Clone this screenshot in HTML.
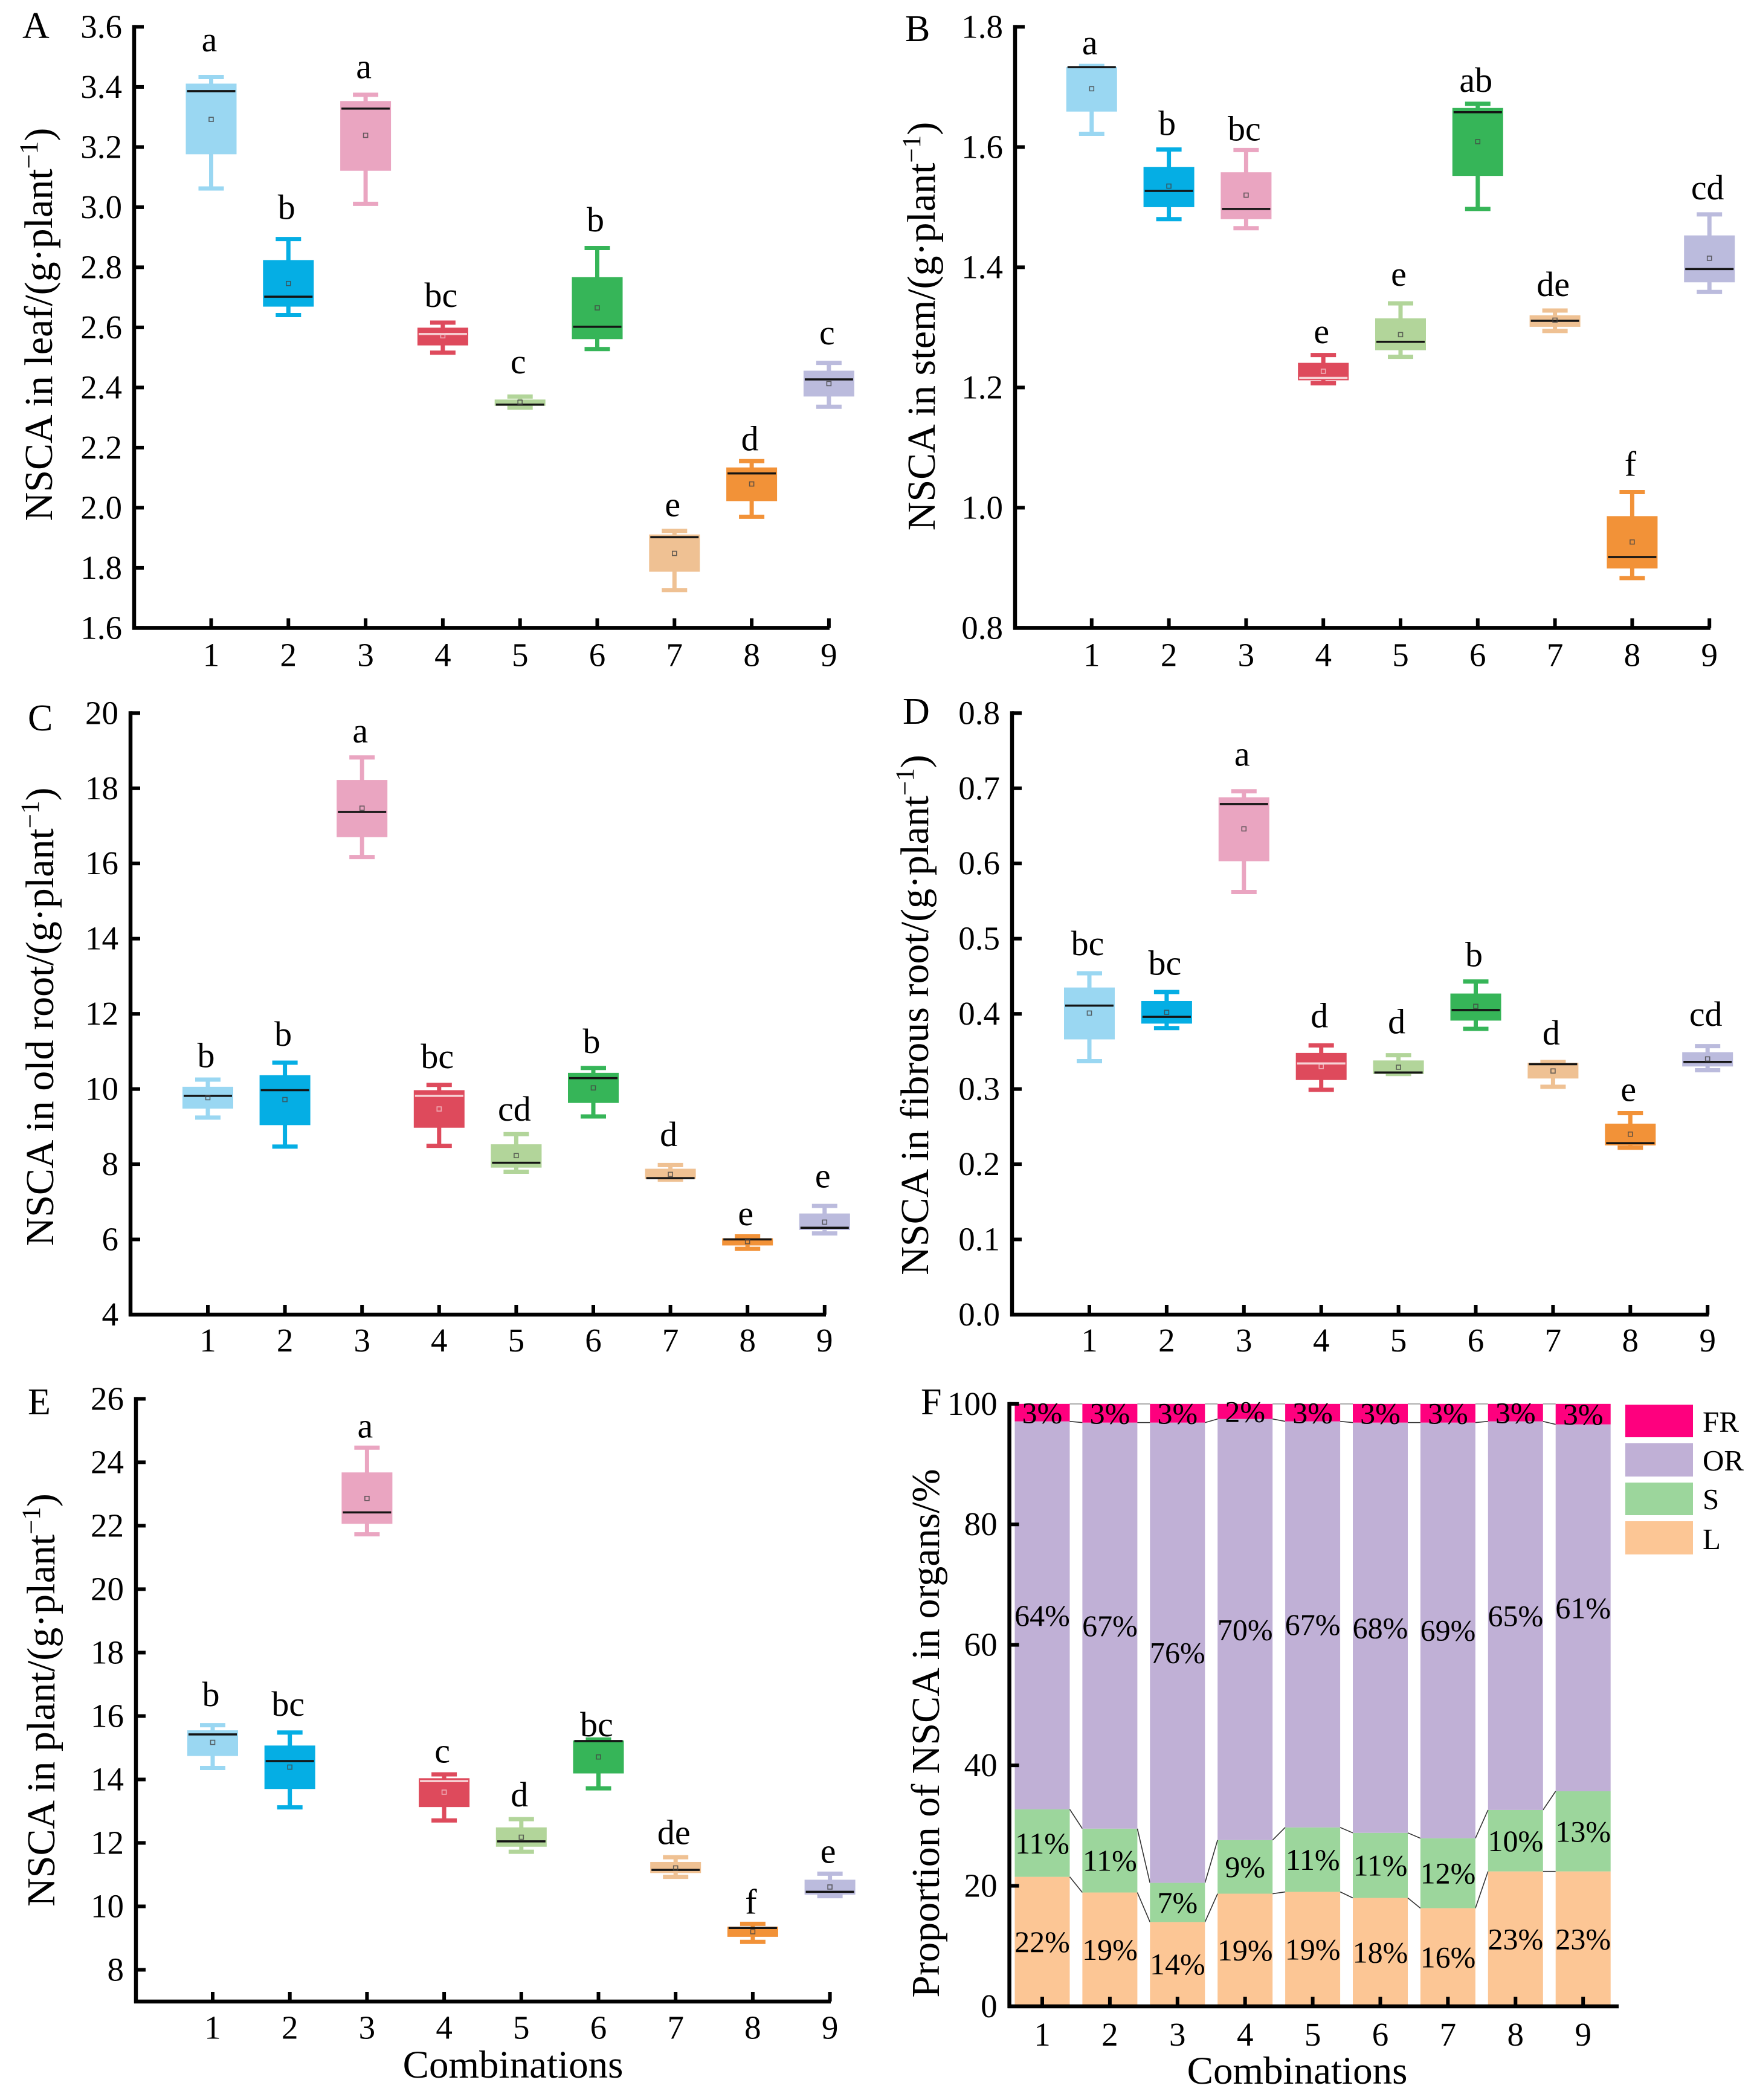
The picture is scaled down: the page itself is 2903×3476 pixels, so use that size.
<!DOCTYPE html>
<html lang="en">
<head>
<meta charset="utf-8">
<title>NSCA by organ and combination</title>
<style>
html,body{margin:0;padding:0;background:#fff;}
svg{display:block;font-family:"Liberation Serif","Times New Roman",serif;fill:#000;}
</style>
</head>
<body>
<svg id="figure" xmlns="http://www.w3.org/2000/svg" width="2903" height="3476" viewBox="0 0 2903 3476">
<rect x="0" y="0" width="2903" height="3476" fill="#fff"/>
<g id="panel-a"></g>
<g id="panel-b"></g>
<g id="panel-c"></g>
<g id="panel-d"></g>
<g id="panel-e"></g>
<g id="panel-f"></g>
<g>
<rect x="2690" y="2325" width="112" height="54" fill="#FE007E"/>
<text x="2818" y="2370" font-size="49">FR</text>
<rect x="2690" y="2389" width="112" height="55" fill="#C0B0D6"/>
<text x="2818" y="2434" font-size="49">OR</text>
<rect x="2690" y="2454" width="112" height="54" fill="#9CD69C"/>
<text x="2818" y="2498" font-size="49">S</text>
<rect x="2690" y="2518" width="112" height="55" fill="#FCC695"/>
<text x="2818" y="2564" font-size="49">L</text>
</g>
</svg>
<script>
const categories = [1,2,3,4,5,6,7,8,9];

const aTicks = ['1.6','1.8','2.0','2.2','2.4','2.6','2.8','3.0','3.2','3.4','3.6'];
const aWhiskerHigh = [3.433,2.894,3.374,2.616,2.370,2.864,1.923,2.155,2.482];
const aBoxHigh     = [3.411,2.824,3.353,2.599,2.360,2.767,1.911,2.134,2.456];
const aMedian      = [3.386,2.702,3.328,2.578,2.343,2.602,1.902,2.114,2.427];
const aMean        = [3.292,2.746,3.239,2.572,2.351,2.665,1.848,2.079,2.413];
const aBoxLow      = [3.176,2.669,3.121,2.540,2.339,2.561,1.787,2.022,2.370];
const aWhiskerLow  = [3.062,2.641,3.011,2.516,2.333,2.528,1.726,1.970,2.336];
const aLetters     = ['a','b','a','bc','c','b','e','d','c'];
const aLetterPad   = [.085,.067,.055,.052,.077,.055,.049,.036,.062];

const bTicks = ['0.8','1.0','1.2','1.4','1.6','1.8'];
const bWhiskerHigh = [1.735,1.596,1.595,1.254,1.340,1.672,1.328,1.026,1.488];
const bBoxHigh     = [1.733,1.567,1.558,1.241,1.315,1.665,1.320,.986,1.453];
const bMedian      = [1.733,1.527,1.497,1.216,1.276,1.658,1.311,.918,1.397];
const bMean        = [1.697,1.535,1.520,1.227,1.288,1.609,1.312,.943,1.415];
const bBoxLow      = [1.659,1.500,1.480,1.212,1.262,1.552,1.301,.899,1.375];
const bWhiskerLow  = [1.622,1.480,1.465,1.207,1.251,1.497,1.294,.883,1.359];
const bLetters     = ['a','b','bc','e','e','ab','de','f','cd'];
const bLetterPad   = [.019,.024,.016,.020,.029,.020,.024,.027,.025];

const cTicks = ['4','6','8','10','12','14','16','18','20'];
const cWhiskerHigh = [10.25,10.70,18.82,10.11,8.80,10.56,7.98,6.08,6.89];
const cBoxHigh     = [10.06,10.37,18.22,9.97,8.53,10.43,7.88,6.03,6.69];
const cMedian      = [9.82,9.97,17.37,9.82,8.04,10.29,7.63,6.00,6.31];
const cMean        = [9.77,9.72,17.47,9.47,8.23,10.03,7.73,5.94,6.46];
const cBoxLow      = [9.48,9.04,16.70,8.97,7.91,9.63,7.61,5.84,6.25];
const cWhiskerLow  = [9.24,8.47,16.17,8.49,7.80,9.27,7.59,5.75,6.16];
const cLetters     = ['b','b','a','bc','cd','b','d','e','e'];
const cLetterPad   = [.33,.45,.40,.45,.36,.40,.50,.30,.49];

const dTicks = ['0.0','0.1','0.2','0.3','0.4','0.5','0.6','0.7','0.8'];
const dWhiskerHigh = [.454,.429,.696,.358,.345,.443,.336,.268,.357];
const dBoxHigh     = [.435,.417,.688,.348,.338,.427,.335,.254,.349];
const dMedian      = [.411,.396,.679,.334,.322,.405,.333,.228,.336];
const dMean        = [.401,.402,.646,.330,.329,.410,.324,.240,.340];
const dBoxLow      = [.366,.387,.603,.312,.320,.391,.314,.225,.330];
const dWhiskerLow  = [.337,.381,.562,.299,.320,.380,.303,.222,.325];
const dLetters     = ['bc','bc','a','d','d','b','d','e','cd'];
const dLetterPad   = [.024,.023,.034,.024,.029,.020,.023,.016,.027];

const eTicks = ['8','10','12','14','16','18','20','22','24','26'];
const eWhiskerHigh = [15.71,15.48,24.46,14.16,12.75,15.26,11.55,9.45,11.03];
const eBoxHigh     = [15.55,15.07,23.68,14.04,12.49,15.23,11.40,9.36,10.84];
const eMedian      = [15.42,14.58,22.42,13.95,12.05,15.21,11.15,9.32,10.46];
const eMean        = [15.17,14.39,22.86,13.60,12.18,14.71,11.21,9.20,10.61];
const eBoxLow      = [14.74,13.70,22.06,13.13,11.88,14.19,11.05,9.04,10.37];
const eWhiskerLow  = [14.36,13.12,21.73,12.71,11.72,13.72,10.93,8.88,10.32];
const eLetters     = ['b','bc','a','c','d','bc','de','f','e'];
const eLetterPad   = [.60,.53,.32,.37,.40,.10,.41,.32,.34];

const fTicks = ['0','20','40','60','80','100'];
const fLeaf      = [21.5,18.9,14.0,18.7,19.0,18.0,16.3,22.4,22.4];
const fStem      = [11.2,10.6,6.5,8.9,10.7,10.8,11.6,10.2,13.3];
const fOldRoot   = [64.4,67.4,76.4,69.9,67.4,68.1,69.0,64.5,60.9];
const fFibrous   = [2.9,3.1,3.1,2.5,2.9,3.1,3.1,2.9,3.4];
const fLeafText    = ['22%','19%','14%','19%','19%','18%','16%','23%','23%'];
const fStemText    = ['11%','11%','7%','9%','11%','11%','12%','10%','13%'];
const fOldRootText = ['64%','67%','76%','70%','67%','68%','69%','65%','61%'];
const fFibrousText = ['3%','3%','3%','2%','3%','3%','3%','3%','3%'];

const boxColors = ['#9AD7F2','#05AEE4','#EAA5C1','#DE4A5C','#B2D59A','#36B558','#EFC193','#F29238','#BBBBDD'];
const NS = 'http://www.w3.org/2000/svg';

function mk(tag, attrs, parent, content) {
  const el = document.createElementNS(NS, tag);
  for (const k in attrs) el.setAttribute(k, attrs[k]);
  if (content !== undefined) el.textContent = content;
  parent.appendChild(el);
  return el;
}

function drawAxes(g, o, ticks, yOf, xOf, cats) {
  const yAxis = mk('line', {x1:o.axisX, x2:o.axisX, y1:o.top-3, y2:o.bottom+3, stroke:'#000', 'stroke-width':6.5}, g);
  
  
  const xAxis = mk('line', {x1:o.axisX-3, x2:o.xEnd, y1:o.bottom, y2:o.bottom, stroke:'#000', 'stroke-width':6.5}, g);
  
  
  ticks.forEach(function (t) {
    const y = yOf(parseFloat(t));
    const tick = mk('line', {x1:o.axisX, x2:o.axisX+16, y1:y, y2:y, stroke:'#000', 'stroke-width':6}, g);
    
    
    const label = mk('text', {x:o.axisX-20, y:y+18, 'text-anchor':'end', 'font-size':55}, g, t);
    
    
  });
  cats.forEach(function (c, i) {
    const x = xOf(i);
    const tick = mk('line', {x1:x, x2:x, y1:o.bottom, y2:o.bottom-16, stroke:'#000', 'stroke-width':6}, g);
    
    
    const label = mk('text', {x:x, y:o.bottom+o.xLabelDrop, 'text-anchor':'middle', 'font-size':55}, g, String(c));
    
    
  });
  const letter = mk('text', {x:o.panelX, y:o.panelY, 'font-size':62}, g, o.panel);
  
  
}

function drawYTitle(g, x, y, main, withUnit) {
  const t = mk('text', {transform:'translate(' + x + ',' + y + ') rotate(-90)', 'text-anchor':'middle', 'font-size':66}, g);
  
  
  const a = mk('tspan', {}, t, main);
  
  
  if (withUnit) {
    const s = mk('tspan', {dy:-24, 'font-size':43}, t, '\u22121');
    
    
    const c = mk('tspan', {dy:24}, t, ')');
    
    
  }
}

function drawXTitle(g, x, y) {
  const t = mk('text', {x:x, y:y, 'text-anchor':'middle', 'font-size':65}, g, 'Combinations');
  
  
}

function drawBoxPanel(id, o, ticks, wh, bh, med, mean, bl, wl, letters, pad) {
  const g = document.getElementById(id);
  const yOf = function (v) { return o.bottom - (v - o.vMin) * (o.bottom - o.top) / (o.vMax - o.vMin); };
  const xOf = function (i) { return o.x1 + o.dx * i; };
  const boxW = 84, capW = 42;
  categories.forEach(function (c, i) {
    const x = xOf(i), col = boxColors[i];
    const stem = mk('line', {x1:x, x2:x, y1:yOf(wh[i]), y2:yOf(wl[i]), stroke:col, 'stroke-width':7}, g);
    
    
    const capHi = mk('line', {x1:x-capW/2, x2:x+capW/2, y1:yOf(wh[i]), y2:yOf(wh[i]), stroke:col, 'stroke-width':7}, g);
    
    
    const capLo = mk('line', {x1:x-capW/2, x2:x+capW/2, y1:yOf(wl[i]), y2:yOf(wl[i]), stroke:col, 'stroke-width':7}, g);
    
    
    const box = mk('rect', {x:x-boxW/2, y:yOf(bh[i]), width:boxW, height:yOf(bl[i])-yOf(bh[i]), fill:col}, g);
    
    
    const medCol = i === 3 ? '#F7D3D6' : '#141414';
    const m = mk('line', {x1:x-boxW/2+2, x2:x+boxW/2-2, y1:yOf(med[i]), y2:yOf(med[i]), stroke:medCol, 'stroke-width':3.5}, g);
    
    
    const dot = mk('rect', {x:x-3.5, y:yOf(mean[i])-3.5, width:7, height:7, fill:'none', stroke:i === 3 ? '#F3C4CA' : '#444', 'stroke-opacity':.8, 'stroke-width':1.6}, g);
    
    
    const sig = mk('text', {x:x-3, y:yOf(wh[i]+pad[i]), 'text-anchor':'middle', 'font-size':58}, g, letters[i]);
    
    
  });
  drawAxes(g, o, ticks, yOf, xOf, categories);
  drawYTitle(g, o.titleX, o.titleY, o.title, true);
  if (o.xTitle) drawXTitle(g, o.xTitleX, o.xTitleY);
}

function drawStackPanel(id, o) {
  const g = document.getElementById(id);
  const yOf = function (v) { return o.bottom - v * (o.bottom - o.top) / 100; };
  const xOf = function (i) { return o.x1 + o.dx * i; };
  const barW = 91;
  const layers = [
    {vals:fLeaf, text:fLeafText, fill:'#FCC695'},
    {vals:fStem, text:fStemText, fill:'#9CD69C'},
    {vals:fOldRoot, text:fOldRootText, fill:'#C0B0D6'},
    {vals:fFibrous, text:fFibrousText, fill:'#FE007E'}
  ];
  const base = categories.map(function () { return 0; });
  layers.forEach(function (layer, li) {
    const tops = [];
    categories.forEach(function (c, i) {
      const lo = base[i], hi = lo + layer.vals[i];
      tops.push(hi);
      const bar = mk('rect', {x:xOf(i)-barW/2, y:yOf(hi), width:barW, height:yOf(lo)-yOf(hi), fill:layer.fill}, g);
      
      
      base[i] = hi;
    });
    categories.forEach(function (c, i) {
      if (i < categories.length - 1) {
        const link = mk('line', {x1:xOf(i)+barW/2, x2:xOf(i+1)-barW/2, y1:yOf(tops[i]), y2:yOf(tops[i+1]), stroke:li === 3 ? '#999' : '#333', 'stroke-width':1.6}, g);
        
        
      }
    });
  });
  const running = categories.map(function () { return 0; });
  layers.forEach(function (layer) {
    categories.forEach(function (c, i) {
      const mid = running[i] + layer.vals[i] / 2;
      running[i] += layer.vals[i];
      const lab = mk('text', {x:xOf(i), y:yOf(mid)+17, 'text-anchor':'middle', 'font-size':50}, g, layer.text[i]);
      
      
    });
  });
  drawAxes(g, o, fTicks, yOf, xOf, categories);
  drawYTitle(g, o.titleX, o.titleY, 'Proportion of NSCA in organs/%', false);
  drawXTitle(g, o.xTitleX, o.xTitleY);
}

drawBoxPanel('panel-a', {panel:'A', panelX:37, panelY:63, axisX:222, xEnd:1373, x1:349.5, dx:127.8, top:44.4, bottom:1039.4, vMin:1.6, vMax:3.6, xLabelDrop:63, titleX:86, titleY:537, title:'NSCA in leaf/(g\u00B7plant'}, aTicks, aWhiskerHigh, aBoxHigh, aMedian, aMean, aBoxLow, aWhiskerLow, aLetters, aLetterPad);
drawBoxPanel('panel-b', {panel:'B', panelX:1498, panelY:68, axisX:1680, xEnd:2831, x1:1806.8, dx:127.8, top:44.4, bottom:1039.4, vMin:0.8, vMax:1.8, xLabelDrop:63, titleX:1547, titleY:540, title:'NSCA in stem/(g\u00B7plant'}, bTicks, bWhiskerHigh, bBoxHigh, bMedian, bMean, bBoxLow, bWhiskerLow, bLetters, bLetterPad);
drawBoxPanel('panel-c', {panel:'C', panelX:46, panelY:1209, axisX:216, xEnd:1367, x1:344, dx:127.6, top:1180.3, bottom:2176, vMin:4, vMax:20, xLabelDrop:61, titleX:88, titleY:1683, title:'NSCA in old root/(g\u00B7plant'}, cTicks, cWhiskerHigh, cBoxHigh, cMedian, cMean, cBoxLow, cWhiskerLow, cLetters, cLetterPad);
drawBoxPanel('panel-d', {panel:'D', panelX:1494, panelY:1198, axisX:1675, xEnd:2828, x1:1803, dx:127.9, top:1180.3, bottom:2176, vMin:0, vMax:0.8, xLabelDrop:61, titleX:1536, titleY:1680, title:'NSCA in fibrous root/(g\u00B7plant'}, dTicks, dWhiskerHigh, dBoxHigh, dMedian, dMean, dBoxLow, dWhiskerLow, dLetters, dLetterPad);
drawBoxPanel('panel-e', {panel:'E', panelX:46, panelY:2341, axisX:225, xEnd:1375, x1:352, dx:127.7, top:2315.4, bottom:3313, vMin:7, vMax:26, xLabelDrop:61.5, titleX:90, titleY:2814, title:'NSCA in plant/(g\u00B7plant', xTitle:true, xTitleX:849, xTitleY:3439}, eTicks, eWhiskerHigh, eBoxHigh, eMedian, eMean, eBoxLow, eWhiskerLow, eLetters, eLetterPad);
drawStackPanel('panel-f', {panel:'F', panelX:1524, panelY:2341, axisX:1670.6, xEnd:2679, x1:1725, dx:111.9, top:2323.8, bottom:3321, xLabelDrop:65, titleX:1554, titleY:2869, xTitleX:2147, xTitleY:3449});
</script>
</body>
</html>
